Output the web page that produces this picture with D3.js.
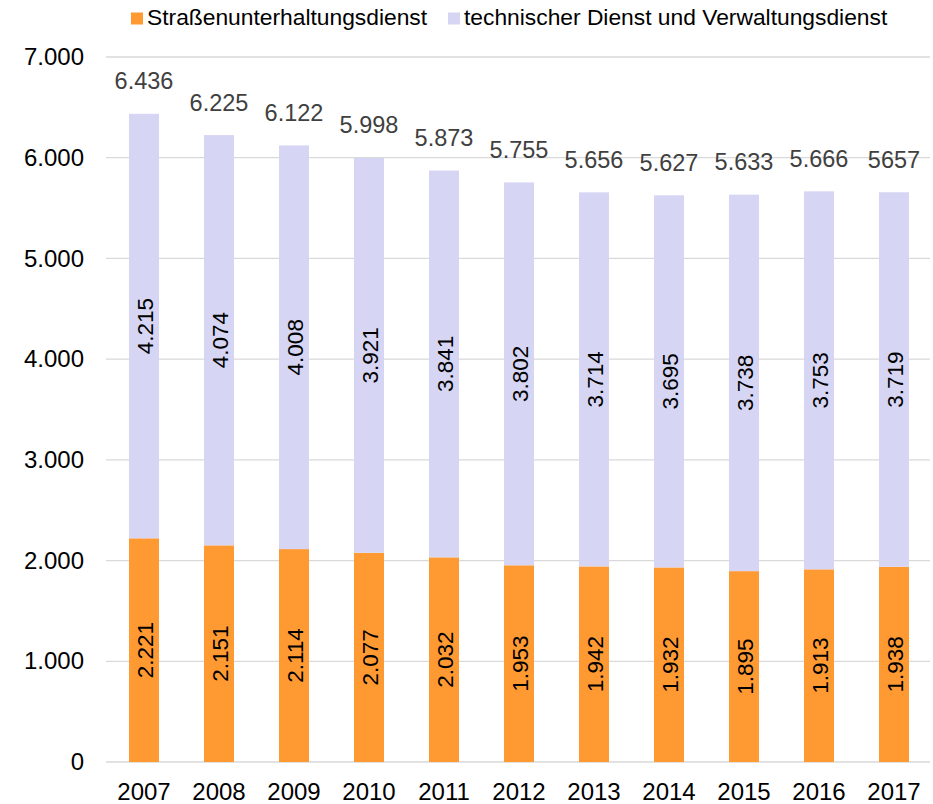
<!DOCTYPE html>
<html><head><meta charset="utf-8">
<script src="https://cdn.jsdelivr.net/npm/d3@7"></script>
<style>body{margin:0;background:#fff}svg{display:block}</style>
</head><body>
<svg id="c" width="933" height="804"></svg>
<script>
const years = ["2007","2008","2009","2010","2011","2012","2013","2014","2015","2016","2017"];
const strasse = [2221,2151,2114,2077,2032,1953,1942,1932,1895,1913,1938];
const technisch = [4215,4074,4008,3921,3841,3802,3714,3695,3738,3753,3719];
const totals = [6436,6225,6122,5998,5873,5755,5656,5627,5633,5666,5657];
const totalLabels = ["6.436","6.225","6.122","5.998","5.873","5.755","5.656","5.627","5.633","5.666","5657"];
const seriesNames = ["Straßenunterhaltungsdienst","technischer Dienst und Verwaltungsdienst"];
const yTicks = [0,1000,2000,3000,4000,5000,6000,7000];

const colors = ["#FF9A33","#D6D6F4"];
const font = "'Liberation Sans', Arial, sans-serif";
const svg = d3.select("#c");
const fmt = v => v===0 ? "0" : d3.format(",")(v).replace(/,/g,".");

const x = d3.scaleBand().domain(years).range([106.5,931.5]).paddingInner(0.6).paddingOuter(0.3);
const y = d3.scaleLinear().domain([0,7000]).range([762,57]);

// gridlines
svg.append("g").selectAll("line").data(yTicks).join("line")
  .attr("x1",106).attr("x2",930)
  .attr("y1",d=>y(d)).attr("y2",d=>y(d))
  .attr("stroke","#d9d9d9").attr("stroke-width",1.3);

// y axis labels
const yAxis = d3.axisLeft(y).tickValues(yTicks).tickFormat(fmt).tickSize(0).tickPadding(0);
const ya = svg.append("g").attr("transform","translate(84,0)").call(yAxis);
ya.select(".domain").remove();
ya.selectAll("text").attr("font-family",font).attr("font-size",24).attr("fill","#000");

// x axis labels
const xAxis = d3.axisBottom(x).tickSize(0).tickPadding(0);
const xa = svg.append("g").attr("transform","translate(0,800)").call(xAxis);
xa.select(".domain").remove();
xa.selectAll("text").attr("font-family",font).attr("font-size",24).attr("fill","#000").attr("dy","0").attr("y",0);

const stackData = years.map((yr,i)=>({year:yr, s:strasse[i], t:technisch[i]}));
const stack = d3.stack().keys(["s","t"])(stackData);

const bw = 30;
stack.forEach((layer,li)=>{
  svg.append("g").selectAll("rect").data(layer).join("rect")
    .attr("x",d=>x(d.data.year)+x.bandwidth()/2-bw/2)
    .attr("width",bw)
    .attr("y",d=>y(d[1]))
    .attr("height",d=>y(d[0])-y(d[1]))
    .attr("fill",colors[li]);
  svg.append("g").selectAll("text").data(layer).join("text")
    .attr("transform",d=>`translate(${x(d.data.year)+x.bandwidth()/2+1},${y((d[0]+d[1])/2)}) rotate(-90)`)
    .attr("text-anchor","middle").attr("dominant-baseline","central")
    .attr("font-family",font).attr("font-size",22.5).attr("fill","#000")
    .text(d=>fmt(d[1]-d[0]));
});

// totals
svg.append("g").selectAll("text").data(years).join("text")
  .attr("x",d=>x(d)+x.bandwidth()/2)
  .attr("y",(d,i)=>y(totals[i])-24.5)
  .attr("text-anchor","middle")
  .attr("font-family",font).attr("font-size",23.5).attr("fill","#404040")
  .text((d,i)=>totalLabels[i]);

// legend
const legX = [131,448];
seriesNames.forEach((n,i)=>{
  svg.append("rect").attr("x",legX[i]).attr("y",12.5).attr("width",12).attr("height",12).attr("fill",colors[i]);
  svg.append("text").attr("x",legX[i]+16).attr("y",24.5)
    .attr("font-family",font).attr("font-size",22.8).attr("fill","#000").text(n);
});
</script>
</body></html>
